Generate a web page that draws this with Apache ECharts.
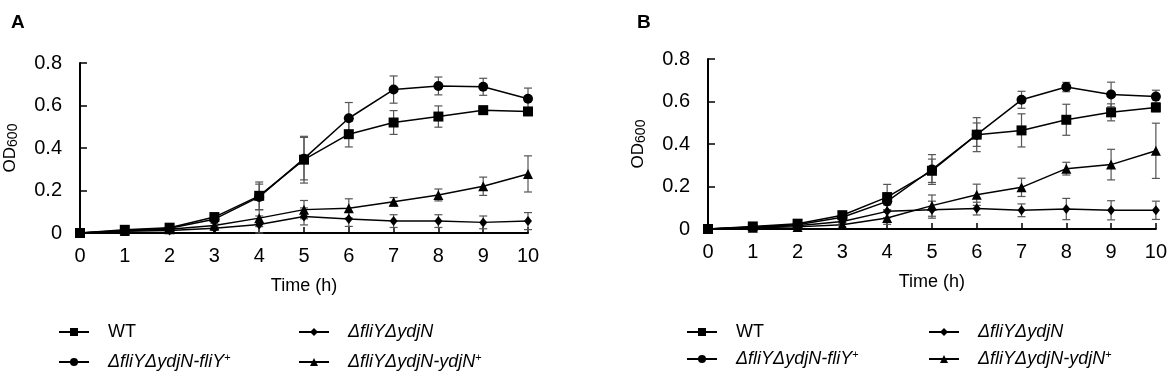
<!DOCTYPE html>
<html>
<head>
<meta charset="utf-8">
<script src="https://cdn.jsdelivr.net/npm/echarts@6/dist/echarts.min.js"></script>
<style>
  html, body { margin: 0; padding: 0; background: #fff; }
  #chart { width: 1170px; height: 386px; }
</style>
</head>
<body>
<div id="chart"></div>
<script>
// time points (h)
const hours = [0, 1, 2, 3, 4, 5, 6, 7, 8, 9, 10];
const yTicks = [0, 0.2, 0.4, 0.6, 0.8];

const names = ['WT', 'ΔfliYΔydjN-fliY+', 'ΔfliYΔydjN', 'ΔfliYΔydjN-ydjN+'];

// panel A
const wtA = [0, 0.015, 0.025, 0.075, 0.175, 0.345, 0.465, 0.52, 0.548, 0.578, 0.572];
const fliYA = [0, 0.012, 0.022, 0.065, 0.17, 0.35, 0.54, 0.675, 0.692, 0.688, 0.632];
const dblA = [0, 0.008, 0.012, 0.022, 0.04, 0.078, 0.066, 0.056, 0.056, 0.05, 0.056];
const ydjNA = [0, 0.01, 0.018, 0.035, 0.07, 0.11, 0.116, 0.147, 0.179, 0.22, 0.278];
const wtErrA = [0, 0.005, 0.006, 0.01, 0.065, 0.11, 0.06, 0.056, 0.05, 0.018, 0.01];
const fliYErrA = [0, 0.005, 0.005, 0.01, 0.06, 0.1, 0.074, 0.064, 0.042, 0.04, 0.05];
const dblErrA = [0, 0.003, 0.004, 0.01, 0.04, 0.04, 0.035, 0.03, 0.03, 0.03, 0.04];
const ydjNErrA = [0, 0.004, 0.004, 0.01, 0.04, 0.043, 0.045, 0.02, 0.028, 0.043, 0.085];

// panel B
const wtB = [0, 0.012, 0.025, 0.065, 0.15, 0.274, 0.444, 0.464, 0.514, 0.549, 0.572];
const fliYB = [0, 0.01, 0.02, 0.055, 0.13, 0.28, 0.444, 0.608, 0.668, 0.633, 0.623];
const dblB = [0, 0.008, 0.015, 0.035, 0.083, 0.091, 0.096, 0.088, 0.094, 0.088, 0.088];
const ydjNB = [0, 0.006, 0.01, 0.02, 0.052, 0.11, 0.161, 0.196, 0.284, 0.303, 0.368];
const wtErrB = [0, 0.004, 0.006, 0.01, 0.06, 0.055, 0.055, 0.078, 0.073, 0.04, 0.02];
const fliYErrB = [0, 0.004, 0.005, 0.01, 0.04, 0.07, 0.08, 0.04, 0.022, 0.058, 0.03];
const dblErrB = [0, 0.003, 0.004, 0.01, 0.03, 0.04, 0.03, 0.03, 0.05, 0.045, 0.043];
const ydjNErrB = [0, 0.003, 0.004, 0.01, 0.03, 0.05, 0.05, 0.043, 0.03, 0.072, 0.13];

const FONT = '"Liberation Sans", Arial, sans-serif';
const symbols = {
  'WT': { symbol: 'rect', size: 10 },
  'ΔfliYΔydjN-fliY+': { symbol: 'circle', size: 10 },
  'ΔfliYΔydjN': { symbol: 'diamond', size: [8, 10] },
  'ΔfliYΔydjN-ydjN+': { symbol: 'triangle', size: 10 },
};

function lineSeries(name, vals, idx) {
  return {
    type: 'line',
    name: name,
    xAxisIndex: idx,
    yAxisIndex: idx,
    data: hours.map((h, i) => [h, vals[i]]),
    symbol: symbols[name].symbol,
    symbolSize: symbols[name].size,
    showAllSymbol: true,
    lineStyle: { color: '#000', width: 1.5 },
    itemStyle: { color: '#000' },
    z: 3,
  };
}

function errRender(params, api) {
  const x = api.value(0);
  const lo = api.value(1);
  const hi = api.value(2);
  if (hi - lo <= 0) return;
  const top = api.coord([x, hi]);
  const bot = api.coord([x, lo]);
  const st = { stroke: '#555', lineWidth: 1.2 };
  const w = 4;
  return {
    type: 'group',
    children: [
      { type: 'line', shape: { x1: top[0], y1: top[1], x2: bot[0], y2: bot[1] }, style: st },
      { type: 'line', shape: { x1: top[0] - w, y1: top[1], x2: top[0] + w, y2: top[1] }, style: st },
      { type: 'line', shape: { x1: bot[0] - w, y1: bot[1], x2: bot[0] + w, y2: bot[1] }, style: st },
    ],
  };
}

function errSeries(vals, errs, idx) {
  return {
    type: 'custom',
    name: 'err',
    xAxisIndex: idx,
    yAxisIndex: idx,
    renderItem: errRender,
    encode: { x: 0, y: [1, 2] },
    data: hours.map((h, i) => [h, vals[i] - errs[i], vals[i] + errs[i]]),
    z: 2,
    silent: true,
  };
}

function legendFmt(name) {
  if (name === 'WT') return name;
  if (name.endsWith('+')) return '{i|' + name.slice(0, -1) + '}{sup|+}';
  return '{i|' + name + '}';
}

function legendCol(left, top, items, gap) {
  return {
    orient: 'vertical',
    left: left,
    top: top,
    padding: 0,
    data: items,
    itemWidth: 30,
    itemHeight: 10,
    itemGap: gap,
    selectedMode: false,
    formatter: legendFmt,
    textStyle: {
      fontFamily: FONT,
      fontSize: 18,
      color: '#000',
      padding: [0, 0, 0, 14],
      lineHeight: 20,
      rich: {
        i: { fontFamily: FONT, fontSize: 18, fontStyle: 'italic', color: '#000' },
        sup: { fontFamily: FONT, fontSize: 11, color: '#000', verticalAlign: 'top', padding: [0, 0, 6, 0] },
      },
    },
  };
}

function xAxisDef(idx) {
  return {
    type: 'value', gridIndex: idx, min: 0, max: 10, interval: 1,
    name: 'Time (h)', nameLocation: 'middle', nameGap: 44,
    nameTextStyle: { fontFamily: FONT, fontSize: 18, color: '#000' },
    axisLine: { lineStyle: { color: '#000', width: 2 } },
    axisTick: { inside: true, length: 6, lineStyle: { color: '#000', width: 1.5 } },
    axisLabel: { fontFamily: FONT, fontSize: 20, color: '#000', margin: 13 },
    splitLine: { show: false },
  };
}

function yAxisDef(idx) {
  return {
    type: 'value', gridIndex: idx, min: yTicks[0], max: yTicks[yTicks.length - 1], interval: 0.2,
    name: '{m|OD}{s|600}', nameLocation: 'middle', nameGap: 60, nameRotate: 90,
    nameTextStyle: {
      rich: {
        m: { fontFamily: FONT, fontSize: 17, color: '#000' },
        s: { fontFamily: FONT, fontSize: 14, color: '#000', verticalAlign: 'bottom', padding: [6, 0, 0, 0] },
      },
    },
    axisLine: { show: true, lineStyle: { color: '#000', width: 2 } },
    axisTick: { show: true, inside: true, length: 7, lineStyle: { color: '#000', width: 1.5 } },
    axisLabel: { fontFamily: FONT, fontSize: 20, color: '#000', margin: 18 },
    splitLine: { show: false },
  };
}

const chart = echarts.init(document.getElementById('chart'), null, { renderer: 'canvas' });

const option = {
  backgroundColor: '#fff',
  animation: false,
  title: [
    { text: 'A', left: 6, top: 8, textStyle: { fontFamily: FONT, fontSize: 19, fontWeight: 'bold', color: '#000' } },
    { text: 'B', left: 632, top: 8, textStyle: { fontFamily: FONT, fontSize: 19, fontWeight: 'bold', color: '#000' } },
  ],
  grid: [
    { left: 80, right: 642, top: 63, bottom: 153 },
    { left: 708, right: 14, top: 59, bottom: 157 },
  ],
  xAxis: [xAxisDef(0), xAxisDef(1)],
  yAxis: [yAxisDef(0), yAxisDef(1)],
  legend: [
    legendCol(58, 322, [names[0], names[1]], 10),
    legendCol(298, 322, [names[2], names[3]], 10),
    legendCol(686, 322, [names[0], names[1]], 7),
    legendCol(928, 322, [names[2], names[3]], 7),
  ],
  series: [
    errSeries(wtA, wtErrA, 0),
    errSeries(fliYA, fliYErrA, 0),
    errSeries(dblA, dblErrA, 0),
    errSeries(ydjNA, ydjNErrA, 0),
    lineSeries(names[0], wtA, 0),
    lineSeries(names[1], fliYA, 0),
    lineSeries(names[2], dblA, 0),
    lineSeries(names[3], ydjNA, 0),
    errSeries(wtB, wtErrB, 1),
    errSeries(fliYB, fliYErrB, 1),
    errSeries(dblB, dblErrB, 1),
    errSeries(ydjNB, ydjNErrB, 1),
    lineSeries(names[0], wtB, 1),
    lineSeries(names[1], fliYB, 1),
    lineSeries(names[2], dblB, 1),
    lineSeries(names[3], ydjNB, 1),
  ],
};

chart.setOption(option);
</script>
</body>
</html>
